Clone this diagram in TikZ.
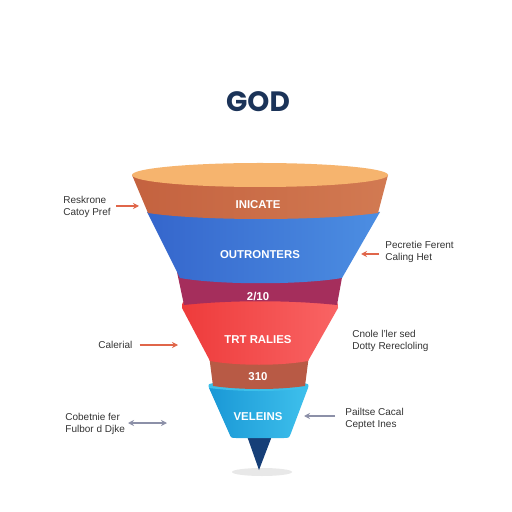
\documentclass[tikz,border=0pt]{standalone}
\usepackage{fontspec}
\setmainfont{Liberation Sans}
\newfontfamily\titlefont{Poppins}
\usetikzlibrary{arrows.meta}
\definecolor{titlec}{HTML}{1B3358}
\definecolor{txt}{HTML}{333333}
\definecolor{ortop}{HTML}{F6B46E}
\definecolor{orL}{HTML}{C4623F}
\definecolor{orR}{HTML}{D27A52}
\definecolor{blL}{HTML}{3566CC}
\definecolor{blR}{HTML}{4C8EE2}
\definecolor{mag}{HTML}{A52E5C}
\definecolor{rdL}{HTML}{EE3B3B}
\definecolor{rdR}{HTML}{F96464}
\definecolor{brn}{HTML}{B85A45}
\definecolor{cyL}{HTML}{1A98D6}
\definecolor{cyR}{HTML}{3EC0EC}
\definecolor{cytop}{HTML}{3CC0EA}
\definecolor{tip}{HTML}{163F78}
\definecolor{arrR}{HTML}{E0664A}
\definecolor{arrG}{HTML}{8C90A8}
\tikzset{
  band/.style={draw=none},
  bandlbl/.style={text=white,font=\fontsize{5.7}{6.5}\selectfont\bfseries},
  side/.style={text=txt,font=\fontsize{5}{6.2}\selectfont,align=left,anchor=west,inner sep=0pt},
  rarr/.style={draw=arrR,line width=0.6pt,-{Stealth[length=3pt,width=3pt]}},
  garr/.style={draw=arrG,line width=0.6pt,-{Stealth[length=3pt,width=3pt]}},
  gdarr/.style={draw=arrG,line width=0.6pt,{Stealth[length=3pt,width=3pt]}-{Stealth[length=3pt,width=3pt]}}
}
\begin{document}
\begin{tikzpicture}[x=0.5pt,y=-0.5pt]
\useasboundingbox (0,0) rectangle (512,512);
\fill[white] (0,0) rectangle (512,512);
% title
\node[text=titlec,font=\fontsize{14}{15}\titlefont\bfseries] (title) at (258,102) {GOD};
% shadow
\fill[gray!18] (262,472) ellipse [x radius=30,y radius=4];
% tip
\fill[tip] (247,436) -- (272,436) -- (259,470) -- cycle;
% cyan band
\shade[left color=cyL,right color=cyR] (209,388) -- (229,433) .. controls (231,438) .. (236,438) -- (284,438) .. controls (289,438) .. (291,433) -- (308,388) -- cycle;
\fill[cytop] (209,388) .. controls (208,384) .. (214,383) .. controls (240,380) and (278,380) .. (303,383) .. controls (309,384) .. (308,388) .. controls (278,392) and (240,392) .. (209,388) -- cycle;
% brown band
\fill[brn] (209,355) -- (213,386) .. controls (240,390) and (278,390) .. (305,386) -- (309,355) -- cycle;
% red band
\shade[left color=rdL,right color=rdR] (182,308) .. controls (182,302) .. (188,301) .. controls (230,298) and (290,298) .. (332,301) .. controls (338,302) .. (338,308) -- (308,361) .. controls (280,366) and (238,366) .. (210,361) -- cycle;
% magenta band
\fill[mag] (177,272) -- (184,305) .. controls (230,300) and (290,300) .. (337,305) -- (343,272) -- cycle;
% blue band
\shade[left color=blL,right color=blR] (147,212) .. controls (200,208) and (320,208) .. (380,212) -- (342,278) .. controls (300,285) and (220,285) .. (180,278) -- cycle;
% orange band
\shade[left color=orL,right color=orR] (132,175) -- (148,213) .. controls (200,221) and (320,221) .. (378,213) -- (388,175) -- cycle;
\fill[ortop] (260,175) ellipse [x radius=128,y radius=12];
% band labels
\node[bandlbl] (b1) at (258,205) {INICATE};
\node[bandlbl] (b2) at (260,255) {OUTRONTERS};
\node[bandlbl] (b3) at (258,296) {2/10};
\node[bandlbl] (b4) at (258,340) {TRT RALIES};
\node[bandlbl] (b5) at (258,377) {310};
\node[bandlbl] (b6) at (258,417) {VELEINS};
% side labels
\node[side] (l1) at (63,207) {Reskrone\\Catoy Pref};
\coordinate (l1e) at (139,206);
\draw[rarr] (l1.east) ++(5,-1) coordinate (l1s) -- (l1e);
\node[side] (r1) at (385,252) {Pecretie Ferent\\Caling Het};
\coordinate (r1e) at (361,254);
\draw[rarr] (r1.west) ++(-6,2) -- (r1e);
\node[side] (l2) at (98,345) {Calerial};
\coordinate (l2e) at (178,345);
\draw[rarr] (l2.east) ++(7,0) -- (l2e);
\node[side] (r2) at (352,341) {Cnole l'ler sed\\Dotty Rerecloling};
\node[side] (l3) at (65,424) {Cobetnie fer\\Fulbor d Djke};
\coordinate (l3a) at (128,423);
\coordinate (l3b) at (167,423);
\draw[gdarr] (l3a) -- (l3b);
\node[side] (r3) at (345,419) {Pailtse Cacal\\Ceptet Ines};
\coordinate (r3e) at (304,416);
\draw[garr] (r3.west) ++(-10,-3) -- (r3e);
\end{tikzpicture}
\end{document}
